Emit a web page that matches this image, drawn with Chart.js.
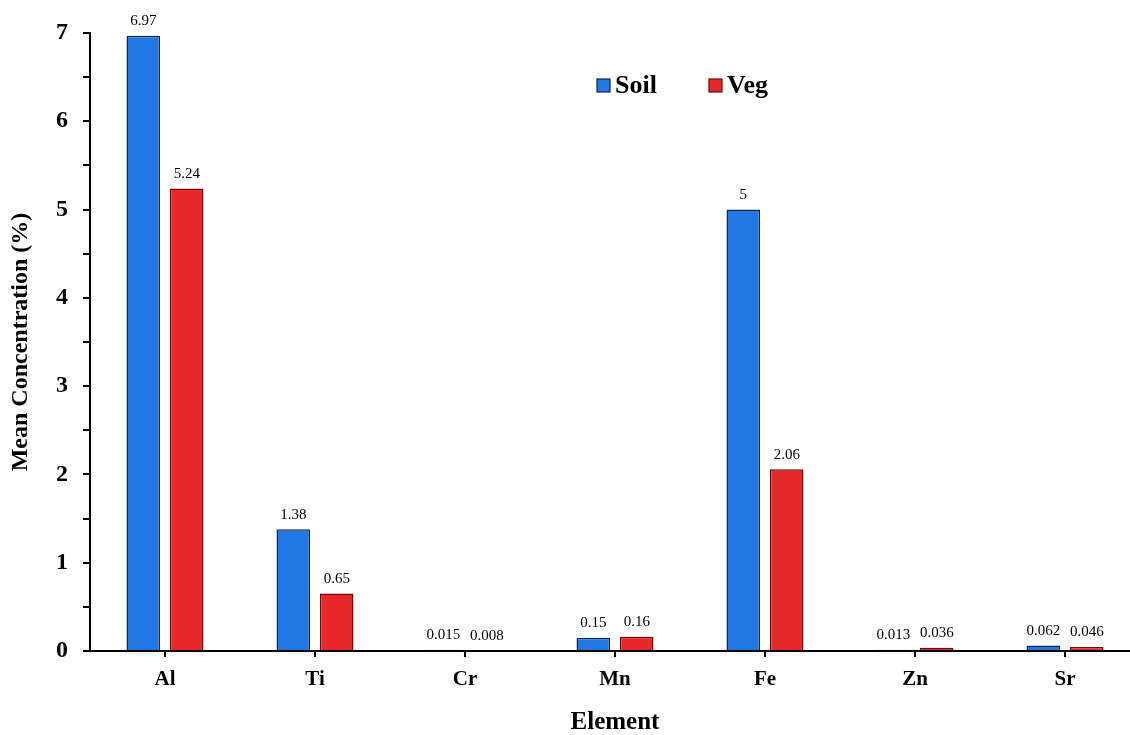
<!DOCTYPE html>
<html lang="en">
<head>
    <meta charset="UTF-8">
    <title>Mean Concentration</title>
    <script src="https://cdn.jsdelivr.net/npm/chart.js"></script>
    <style>
        html, body { margin: 0; padding: 0; background: #fff; overflow: hidden; }
        #wrap { position: relative; width: 1150px; height: 735px; }
    </style>
</head>
<body>
    <div id="wrap"><canvas id="myChart"></canvas></div>

    <script>
        // data
        const elements = ['Al', 'Ti', 'Cr', 'Mn', 'Fe', 'Zn', 'Sr']
        const soil = [6.97, 1.38, 0.015, 0.15, 5, 0.013, 0.062]
        const veg = [5.24, 0.65, 0.008, 0.16, 2.06, 0.036, 0.046]
        const yTicks = [0, 1, 2, 3, 4, 5, 6, 7]

        const serif = '"Liberation Serif", "DejaVu Serif", serif'

        // value above each bar
        const valueLabels = {
            id: 'valueLabels',
            afterDatasetsDraw(chart) {
                const ctx = chart.ctx
                ctx.save()
                ctx.font = '15px ' + serif
                ctx.fillStyle = '#000'
                ctx.textAlign = 'center'
                ctx.textBaseline = 'bottom'
                chart.data.datasets.forEach((ds, i) => {
                    chart.getDatasetMeta(i).data.forEach((bar, j) => {
                        ctx.fillText(String(ds.data[j]), bar.x, bar.y - 7)
                    })
                })
                ctx.restore()
            }
        }

        // legend sitting inside the plot
        const innerLegend = {
            id: 'innerLegend',
            afterDraw(chart) {
                const ctx = chart.ctx
                const items = [[597, 'Soil', 0], [709, 'Veg', 1]]
                ctx.save()
                ctx.font = 'bold 26px ' + serif
                ctx.textBaseline = 'middle'
                items.forEach(([x, txt, i]) => {
                    const ds = chart.data.datasets[i]
                    ctx.fillStyle = ds.backgroundColor
                    ctx.fillRect(x, 79, 13, 13)
                    ctx.strokeStyle = ds.borderColor
                    ctx.lineWidth = 1.2
                    ctx.strokeRect(x, 79, 13, 13)
                    ctx.fillStyle = '#000'
                    ctx.fillText(txt, x + 18, 86)
                })
                ctx.restore()
            }
        }

        var ctx = document.getElementById('myChart')
        var myChart = new Chart(ctx, {
            type: 'bar',
            data: {
                labels: elements,
                datasets: [{
                    label: 'Soil',
                    data: soil,
                    backgroundColor: '#2178E2',
                    borderColor: '#14264d',
                    borderWidth: 1.5
                }, {
                    label: 'Veg',
                    data: veg,
                    backgroundColor: '#E7282A',
                    borderColor: '#6a0c0c',
                    borderWidth: 1.5
                }]
            },
            options: {
                responsive: true,
                maintainAspectRatio: false,
                animation: false,
                layout: { padding: { top: 33, right: 10, left: 0, bottom: 0 } },
                datasets: {
                    bar: { categoryPercentage: 0.58, barPercentage: 0.77 }
                },
                plugins: {
                    legend: { display: false },
                    tooltip: { enabled: false }
                },
                scales: {
                    x: {
                        grid: {
                            offset: false,
                            drawOnChartArea: false,
                            drawTicks: true,
                            tickLength: 6,
                            color: '#000',
                            lineWidth: 2
                        },
                        border: { display: true, color: '#000', width: 2 },
                        ticks: {
                            color: '#000',
                            padding: 10,
                            font: { family: serif, size: 21, weight: 'bold' }
                        },
                        title: {
                            display: true,
                            text: 'Element',
                            color: '#000',
                            padding: { top: 0, bottom: 0 },
                            font: { family: serif, size: 25, weight: 'bold', lineHeight: 1 }
                        },
                        afterFit: (s) => { s.height = 84 }
                    },
                    y: {
                        min: 0,
                        max: 7,
                        grid: {
                            drawOnChartArea: false,
                            drawTicks: true,
                            tickLength: 7,
                            color: '#000',
                            lineWidth: 2
                        },
                        border: { display: true, color: '#000', width: 2 },
                        ticks: {
                            stepSize: 0.5,
                            color: '#000',
                            padding: 15,
                            font: { family: serif, size: 24, weight: 'bold' },
                            callback: (v) => yTicks.includes(v) ? String(v) : ''
                        },
                        title: {
                            display: true,
                            text: 'Mean Concentration (%)',
                            color: '#000',
                            padding: { top: 9, bottom: 0 },
                            font: { family: serif, size: 24, weight: 'bold', lineHeight: 1 }
                        },
                        afterFit: (s) => { s.width = 90 }
                    }
                }
            },
            plugins: [valueLabels, innerLegend]
        })
    </script>
</body>
</html>
